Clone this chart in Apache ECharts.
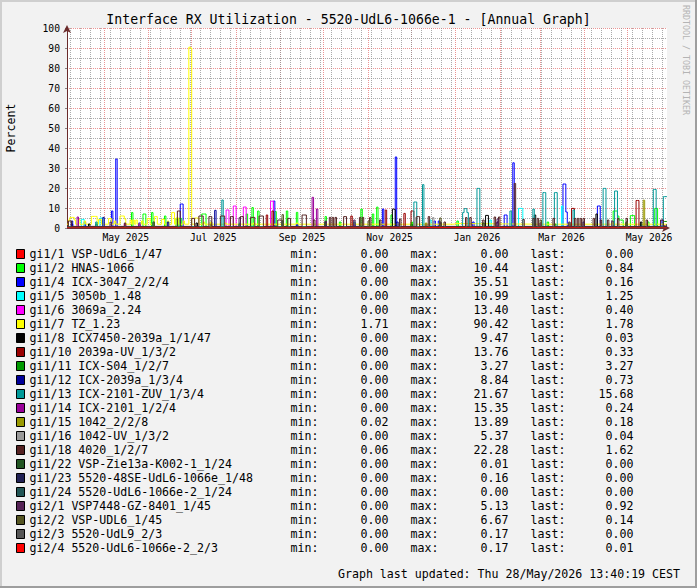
<!DOCTYPE html>
<html>
<head>
<meta charset="utf-8">
<script src="https://cdn.jsdelivr.net/npm/echarts@6/dist/echarts.min.js"></script>
<style>html,body{margin:0;padding:0;background:#f2f2f2;}#c{width:697px;height:588px;}</style>
</head>
<body>
<div id="c"></div>
<script>
// x values are days counted from 2025-04-05 00:00; the graph ends 2026-05-28 13:40:19
const END_DAY = 418.57;
const monthStartDays = [26, 57, 87, 118, 149, 179, 210, 240, 271, 302, 330, 361, 391];
const weekStartDays = [2, 9, 16, 23, 30, 37, 44, 51, 58, 65, 72, 79, 86, 93, 100, 107, 114, 121, 128, 135, 142, 149, 156, 163, 170, 177, 184, 191, 198, 205, 212, 219, 226, 233, 240, 247, 254, 261, 268, 275, 282, 289, 296, 303, 310, 317, 324, 331, 338, 345, 352, 359, 366, 373, 380, 387, 394, 401, 408, 415];
const monthLabelDays = [41, 102, 164, 225, 286, 345, 406];
const monthLabels = ['May 2025', 'Jul 2025', 'Sep 2025', 'Nov 2025', 'Jan 2026', 'Mar 2026', 'May 2026'];

const seriesNames = [
  'gi1/1 VSP-UdL6_1/47', 'gi1/2 HNAS-1066', 'gi1/4 ICX-3047_2/2/4', 'gi1/5 3050b_1.48',
  'gi1/6 3069a_2.24', 'gi1/7 TZ_1.23', 'gi1/8 ICX7450-2039a_1/1/47', 'gi1/10 2039a-UV_1/3/2',
  'gi1/11 ICX-S04_1/2/7', 'gi1/12 ICX-2039a_1/3/4', 'gi1/13 ICX-2101-ZUV_1/3/4', 'gi1/14 ICX-2101_1/2/4',
  'gi1/15 1042_2/2/8', 'gi1/16 1042-UV_1/3/2', 'gi1/18 4020_1/2/7', 'gi1/22 VSP-Zie13a-K002-1_1/24',
  'gi1/23 5520-48SE-UdL6-1066e_1/48', 'gi1/24 5520-UdL6-1066e-2_1/24', 'gi2/1 VSP7448-GZ-8401_1/45',
  'gi2/2 VSP-UDL6_1/45', 'gi2/3 5520-UdL9_2/3', 'gi2/4 5520-UdL6-1066e-2_2/3'
];
const seriesColors = [
  '#FF0000', '#00FF00', '#0000FF', '#00FFFF', '#FF00FF', '#FFFF00', '#000000', '#990000',
  '#009900', '#000099', '#009999', '#990099', '#999900', '#999999', '#552222', '#225522',
  '#222255', '#225555', '#552255', '#555522', '#555555', '#FF0000'
];
const statMin  = [0.00, 0.00, 0.00, 0.00, 0.00, 1.71, 0.00, 0.00, 0.00, 0.00, 0.00, 0.00, 0.02, 0.00, 0.06, 0.00, 0.00, 0.00, 0.00, 0.00, 0.00, 0.00];
const statMax  = [0.00, 10.44, 35.51, 10.99, 13.40, 90.42, 9.47, 13.76, 3.27, 8.84, 21.67, 15.35, 13.89, 5.37, 22.28, 0.01, 0.16, 0.00, 5.13, 6.67, 0.17, 0.17];
const statLast = [0.00, 0.84, 0.16, 1.25, 0.40, 1.78, 0.03, 0.33, 3.27, 0.73, 15.68, 0.24, 0.18, 0.04, 1.62, 0.00, 0.00, 0.00, 0.92, 0.14, 0.00, 0.01];

// resting level of each series
const baseLevels = [0, 0.4, 0.3, 0.3, 0.2, 1.9, 0.1, 0.1, 0.6, 0.3, 0.5, 0.2, 0.3, 0.1, 0.8, 0, 0.02, 0, 0.4, 0.3, 0.02, 0.03];

// daily values that differ from the resting level: [day, percent]
const ev_gi1_1 = [];
const ev_gi1_2 = [[45,7.7],[53,7],[54,7],[59,7.7],[68,6],[76,4.5],[78,4.8],[79,4.8],[94,7],[95,7],[96,7],[125,7],[129,10.2],[133,8.5],[145,8.2],[153,8.5],[160,7.8],[180,5.7],[190,3],[205,9.5],[213,7],[216,10.44],[226,6.5],[240,3],[272,3.5],[300,2.5],[335,3],[350,2.5],[381,8.5],[382,8.5],[383,8.5],[384,6],[385,4],[386,4],[387,4],[393,6.2],[394,6.2],[395,6.2],[405,3],[410,9.8],[411,9.8],[418,0.84]];
const ev_gi1_4 = [[3,2],[12,3],[31,8.5],[34,34.5],[50,2.5],[79,12],[80,12],[100,3],[144,13.5],[160,2],[200,2.5],[220,9.5],[229,35.51],[256,3.5],[259,3.5],[283,3],[305,6.5],[306,6.5],[311,32.6],[330,2.5],[346,22],[347,22],[348,8],[370,11],[371,11],[390,3],[415,4],[418,0.16]];
const ev_gi1_5 = [[10,4.3],[11,4.3],[23,5],[24,5],[60,2],[120,2.5],[253,4],[295,4],[315,9.8],[316,9.8],[317,9.8],[345,10.99],[400,2],[418,1.25]];
const ev_gi1_6 = [[40,2],[111,9],[112,9],[116,11],[117,11],[123,10.5],[124,10.5],[142,13.4],[143,13.4],[200,2],[300,2.5],[418,0.4]];
const ev_gi1_7 = [[1,4],[2,5.3],[3,5.3],[4,5.3],[5,4],[8,4.2],[12,3.5],[17,5.8],[18,5.8],[19,5.8],[20,5.8],[22,4.2],[23,4.2],[29,4.7],[30,4.7],[33,3.5],[37,6],[38,6],[39,6],[40,4.5],[44,4],[46,4],[48,4],[52,3.5],[56,4.7],[57,4.7],[61,5.7],[62,5.7],[66,4.3],[67,4.3],[70,3.5],[73,7.7],[74,7.7],[76,5],[77,5],[81,3.5],[85,90.42],[86,90],[89,5],[90,5],[91,5],[95,3],[100,3],[110,2.5],[130,2.5],[160,2.5],[200,2.5],[270,2.2],[330,2.5],[380,2.5],[418,1.78]];
const ev_gi1_8 = [[15,2],[90,2.5],[180,3],[227,9.47],[228,9.2],[260,2.5],[292,6.3],[293,6.3],[326,6.5],[369,7],[400,3],[418,0.03]];
const ev_gi1_10 = [[139,6.5],[143,8.5],[198,6],[222,9],[235,7.3],[240,8.5],[241,8.5],[300,3],[352,9.8],[353,9.8],[397,13.76],[398,13.76],[418,0.33]];
const ev_gi1_11 = [[20,2],[60,2.5],[120,2],[180,2.5],[240,2],[290,2.5],[340,2],[390,2.5],[416,3.27],[417,3.27],[418,3.27]];
const ev_gi1_12 = [[3,3.5],[25,5.3],[70,3],[103,8.84],[150,3.5],[230,3],[300,3],[360,3],[418,0.73]];
const ev_gi1_13 = [[20,3],[60,3],[108,14],[150,3],[200,3],[242,13],[243,13],[248,21.67],[276,7.7],[277,9.7],[278,9.7],[279,7.7],[286,19.8],[287,19.8],[309,8.5],[325,9.5],[332,17.7],[333,17.7],[340,17.7],[341,17.7],[353,9],[374,19.8],[375,19.8],[382,18.5],[383,18.5],[409,19.3],[410,19.3],[416,15.68],[417,15.68],[418,15.68]];
const ev_gi1_14 = [[7,5.5],[50,2],[171,15.35],[174,9.5],[250,2],[330,2.5],[418,0.24]];
const ev_gi1_15 = [[100,2],[250,2.5],[350,2],[402,13.89],[418,0.18]];
const ev_gi1_16 = [[242,5.37],[255,5.2],[300,2],[418,0.04]];
const ev_gi1_18 = [[1,3.5],[2,3.5],[40,2.5],[77,8.5],[78,8.5],[87,4.8],[88,4.8],[92,6],[93,6],[94,6],[99,5.7],[100,5.7],[107,6],[108,6],[109,6],[114,5.7],[115,5.7],[121,5.7],[122,5.7],[128,5.3],[129,5.3],[130,5.3],[134,6],[135,6],[136,6],[147,4],[148,4],[149,4],[154,4.8],[155,4.8],[164,6.5],[165,6.5],[166,6.5],[172,4],[183,5.3],[185,5.3],[187,5.3],[193,5.7],[194,5.7],[204,5.3],[206,5.3],[211,5.2],[218,4],[232,4.5],[244,5.7],[245,5.7],[252,5.7],[263,3],[278,5.2],[281,5.2],[290,4],[298,5.5],[301,5.5],[312,22.28],[318,4.3],[325,4.8],[328,4.8],[339,4.8],[354,4.8],[356,4.8],[358,4.8],[360,4.8],[367,4.8],[372,4],[377,4],[384,4.8],[390,4.8],[404,4],[414,4],[415,4],[418,1.62]];
const ev_gi1_22 = [[200,0.01]];
const ev_gi1_23 = [[150,0.16],[418,0]];
const ev_gi1_24 = [];
const ev_gi2_1 = [[30,3],[120,5.13],[180,3.5],[200,4],[260,3],[300,4.5],[350,3],[380,3.5],[418,0.92]];
const ev_gi2_2 = [[60,3],[150,6.67],[210,3.5],[260,5],[330,4],[390,3],[418,0.14]];
const ev_gi2_3 = [[100,0.17],[418,0]];
const ev_gi2_4 = [[250,0.17],[418,0.01]];

const seriesEvents = [ev_gi1_1, ev_gi1_2, ev_gi1_4, ev_gi1_5, ev_gi1_6, ev_gi1_7, ev_gi1_8, ev_gi1_10,
  ev_gi1_11, ev_gi1_12, ev_gi1_13, ev_gi1_14, ev_gi1_15, ev_gi1_16, ev_gi1_18, ev_gi1_22,
  ev_gi1_23, ev_gi1_24, ev_gi2_1, ev_gi2_2, ev_gi2_3, ev_gi2_4];

// each listed value holds for one day, then returns to the resting level
function toSteps(base, events) {
  const pts = [[0, base]];
  for (let i = 0; i < events.length; i++) {
    const d = events[i][0], v = events[i][1];
    pts.push([d, v]);
    const next = events[i + 1];
    if (d + 1 >= END_DAY) { pts.push([END_DAY, v]); }
    else if (!next || next[0] !== d + 1) { pts.push([d + 1, base]); }
  }
  if (pts[pts.length - 1][0] < END_DAY) pts.push([END_DAY, base]);
  return pts;
}

const MONO = 'DejaVu Sans Mono';
const FS = 11.6;
const chart = echarts.init(document.getElementById('c'), null, {renderer: 'svg', width: 697, height: 588});

const series = seriesNames.map((name, i) => ({
  name: name,
  type: 'line',
  step: 'end',
  showSymbol: false,
  symbol: 'none',
  xAxisIndex: 0,
  yAxisIndex: 0,
  color: seriesColors[i],
  itemStyle: {color: seriesColors[i]},
  lineStyle: {color: seriesColors[i], width: 1},
  emphasis: {disabled: true},
  animation: false,
  data: toSteps(baseLevels[i], seriesEvents[i])
}));

// fixed-width number, padded with no-break spaces so it lines up in monospace
const fmt = v => v.toFixed(2).padStart(5, '\u00a0');

const tok = w => ({width: w, fontFamily: MONO, fontSize: FS, lineHeight: 14, color: '#000'});

const option = {
  backgroundColor: '#f2f2f2',
  animation: false,
  title: [
    {text: 'Interface RX Utilization - 5520-UdL6-1066e-1 - [Annual Graph]', left: 'center', top: 12.5, padding: 0,
     textStyle: {fontFamily: MONO, fontSize: 13.2, fontWeight: 'normal', color: '#000'}},
    {text: 'Graph last updated: Thu 28/May/2026 13:40:19 CEST', right: 17, top: 568, padding: 0,
     textStyle: {fontFamily: MONO, fontSize: FS, fontWeight: 'normal', color: '#000'}}
  ],
  grid: {left: 67, right: 30, top: 28, bottom: 360, show: true, backgroundColor: '#ffffff', borderWidth: 0, containLabel: false, outerBoundsMode: 'none'},
  xAxis: [
    {type: 'value', min: 0, max: END_DAY, position: 'bottom',
     axisLine: {show: true, onZero: false, symbol: ['none', 'arrow'], symbolSize: [6, 8], symbolOffset: [0, 3], lineStyle: {color: '#6a2a2a', width: 1}},
     axisTick: {show: false, customValues: monthStartDays},
     axisLabel: {show: true, customValues: monthLabelDays, margin: 4, fontFamily: MONO, fontSize: 9.7, color: '#000',
                 formatter: v => monthLabels[monthLabelDays.indexOf(v)] || ''},
     splitLine: {show: true, lineStyle: {color: 'rgba(222,79,79,0.6)', width: 1, type: [1, 1]}}},
    {type: 'value', min: 0, max: END_DAY, position: 'top',
     axisLine: {show: false}, axisLabel: {show: false},
     axisTick: {show: false, customValues: weekStartDays},
     splitLine: {show: true, lineStyle: {color: 'rgba(143,143,143,0.75)', width: 1, type: [1, 1]}}}
  ],
  yAxis: {
    type: 'value', min: 0, max: 100, interval: 10,
    name: 'Percent', nameLocation: 'middle', nameRotate: 90, nameGap: 50,
    nameTextStyle: {fontFamily: MONO, fontSize: FS, color: '#000'},
    axisLine: {show: true, onZero: false, symbol: ['none', 'arrow'], symbolSize: [6, 8], symbolOffset: [0, 3], lineStyle: {color: '#6a2a2a', width: 1}},
    axisTick: {show: true, length: 2, lineStyle: {color: '#888'}},
    axisLabel: {margin: 7, fontFamily: MONO, fontSize: 9.7, color: '#000'},
    splitLine: {show: true, lineStyle: {color: 'rgba(222,79,79,0.6)', width: 1, type: [1, 1]}},
    minorTick: {show: false, splitNumber: 2},
    minorSplitLine: {show: true, lineStyle: {color: 'rgba(143,143,143,0.75)', width: 1, type: [1, 1]}}
  },
  legend: {
    orient: 'vertical', left: 16, top: 247, padding: 0, itemGap: 0,
    itemWidth: 8, itemHeight: 9, icon: 'rect', selectedMode: false,
    itemStyle: {borderColor: '#000', borderWidth: 1},
    data: seriesNames,
    textStyle: {fontFamily: MONO, fontSize: FS, color: '#000', lineHeight: 14,
      rich: {n: tok(261), l: tok(63), v: tok(57), k: tok(68), e: tok(40)}},
    formatter: name => {
      const i = seriesNames.indexOf(name);
      return '{n|' + name + '}{l|min:}{v|' + fmt(statMin[i]) + '}{l|max:}{v|' + fmt(statMax[i]) +
             '}{k|last:}{e|' + fmt(statLast[i]) + '}';
    }
  },
  graphic: [
    {type: 'rect', left: 0, top: 0, shape: {width: 697, height: 2}, style: {fill: '#cfcfcf'}, silent: true},
    {type: 'rect', left: 0, top: 0, shape: {width: 2, height: 588}, style: {fill: '#cfcfcf'}, silent: true},
    {type: 'rect', right: 0, top: 0, shape: {width: 2, height: 588}, style: {fill: '#9e9e9e'}, silent: true},
    {type: 'rect', left: 0, bottom: 0, shape: {width: 697, height: 2}, style: {fill: '#9e9e9e'}, silent: true},
    {type: 'text', x: 686, y: 5, rotation: -Math.PI / 2, silent: true,
     style: {text: 'RRDTOOL / TOBI OETIKER', fontFamily: MONO, fontSize: 8.3, fill: '#b4b4b4', align: 'left', verticalAlign: 'middle'}}
  ],
  series: series
};
chart.setOption(option);
</script>
</body>
</html>
